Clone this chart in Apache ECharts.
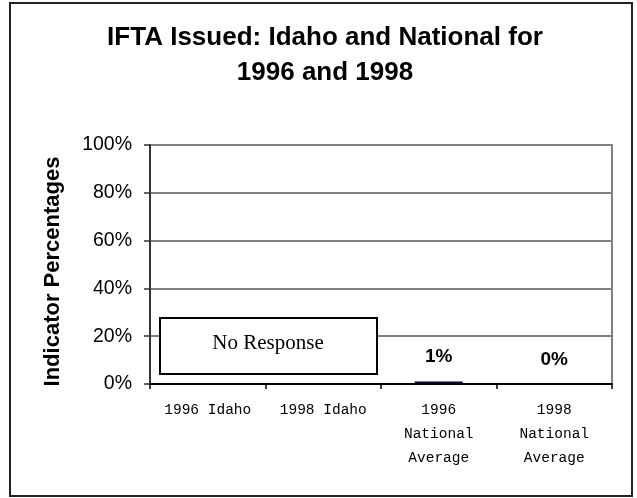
<!DOCTYPE html>
<html>
<head lang="en">
    <meta charset="UTF-8"/>
    <title>IFTA Issued</title>
    <script src="https://cdn.jsdelivr.net/npm/echarts@6/dist/echarts.min.js"></script>
    <style>
        html, body { margin: 0; padding: 0; background: #fff; }
    </style>
</head>
<body>
<div id="chart" style="width: 637px;height:498px;"></div>
<script>
    var categories = ['1996 Idaho', '1998 Idaho', '1996\nNational\nAverage', '1998\nNational\nAverage'];
    var values = ['-', '-', 1, 0];
    var yTicks = [0, 20, 40, 60, 80, 100];

    var myChart = echarts.init(document.getElementById('chart'));
    var option = {
        backgroundColor: '#fff',
        animation: false,
        title: {
            text: 'IFTA Issued: Idaho and National for\n1996 and 1998',
            left: 320,
            top: 15,
            textAlign: 'center',
            textStyle: {
                fontFamily: 'Liberation Sans, Arial',
                fontSize: 26,
                fontWeight: 'bold',
                color: '#000',
                lineHeight: 35
            }
        },
        grid: {
            left: 150,
            right: 25,
            top: 145,
            bottom: 114,
            show: true,
            borderColor: '#808080',
            borderWidth: 2
        },
        xAxis: {
            type: 'category',
            data: categories,
            axisLine: { lineStyle: { color: '#000', width: 2 } },
            axisTick: { show: true, length: 5, lineStyle: { color: '#000', width: 1.5 } },
            axisLabel: {
                margin: 14,
                fontFamily: 'Liberation Mono, Courier New',
                fontSize: 14.5,
                color: '#000',
                lineHeight: 24,
                interval: 0
            }
        },
        yAxis: {
            type: 'value',
            min: yTicks[0],
            max: yTicks[yTicks.length - 1],
            interval: 20,
            name: 'Indicator Percentages',
            nameLocation: 'middle',
            nameGap: 86,
            nameTextStyle: {
                fontFamily: 'Liberation Sans, Arial',
                fontSize: 22,
                fontWeight: 'bold',
                color: '#000',
                padding: [0, 0, 0, -14]
            },
            axisLine: { show: true, lineStyle: { color: '#333', width: 2 } },
            axisTick: { show: true, length: 6, lineStyle: { color: '#333', width: 1.5 } },
            splitLine: { lineStyle: { color: '#808080', width: 2 } },
            axisLabel: {
                formatter: '{value}%',
                margin: 18,
                fontFamily: 'Liberation Sans, Arial',
                fontSize: 19.5,
                color: '#000'
            }
        },
        series: [{
            type: 'bar',
            data: values,
            barWidth: 48,
            itemStyle: { color: '#000026' },
            label: {
                show: true,
                position: 'top',
                distance: 15,
                formatter: '{c}%',
                fontFamily: 'Liberation Sans, Arial',
                fontSize: 19,
                fontWeight: 'bold',
                color: '#000'
            }
        }],
        graphic: [{
            type: 'rect',
            shape: { x: 10, y: 3, width: 622, height: 493 },
            style: { fill: 'none', stroke: '#222', lineWidth: 2 },
            silent: true
        }, {
            type: 'rect',
            shape: { x: 160, y: 318, width: 217, height: 56 },
            style: { fill: '#fff', stroke: '#000', lineWidth: 2 },
            z: 100
        }, {
            type: 'text',
            x: 268,
            y: 343,
            z: 101,
            style: {
                text: 'No Response',
                fontFamily: 'Liberation Serif, Times New Roman',
                fontSize: 21,
                fill: '#000',
                align: 'center',
                verticalAlign: 'middle'
            }
        }]
    };
    myChart.setOption(option);
</script>
</body>
</html>
